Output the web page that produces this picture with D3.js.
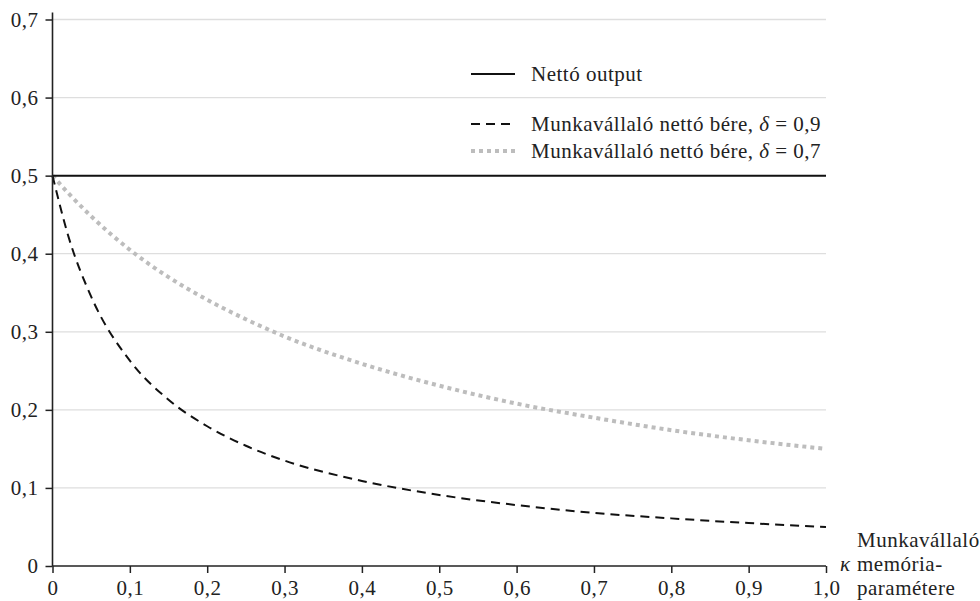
<!DOCTYPE html>
<html>
<head>
<meta charset="utf-8">
<script src="https://cdn.jsdelivr.net/npm/d3@7"></script>
<style>
  body { margin: 0; background: #fff; }
  svg text { font-family: "Liberation Serif", "DejaVu Serif", serif; fill: #222; letter-spacing: 0.5px; }
</style>
</head>
<body>
<div id="chart"></div>
<script>
// Munkavállaló κ memória-paramétere (x) and the values
const kappa = [0, 0.02, 0.05, 0.1, 0.15, 0.2, 0.25, 0.3, 0.4, 0.5, 0.6, 0.7, 0.8, 0.9, 1.0];
const netOutput = [0.5, 0.5, 0.5, 0.5, 0.5, 0.5, 0.5, 0.5, 0.5, 0.5, 0.5, 0.5, 0.5, 0.5, 0.5];
const wageDelta09 = [0.5, 0.424, 0.345, 0.263, 0.213, 0.179, 0.154, 0.135, 0.109, 0.091, 0.078, 0.068, 0.061, 0.055, 0.05];
const wageDelta07 = [0.5, 0.478, 0.448, 0.405, 0.370, 0.341, 0.316, 0.294, 0.259, 0.231, 0.208, 0.190, 0.174, 0.161, 0.15];

const xTicks = [0, 0.1, 0.2, 0.3, 0.4, 0.5, 0.6, 0.7, 0.8, 0.9, 1.0];
const xTickLabels = ['0', '0,1', '0,2', '0,3', '0,4', '0,5', '0,6', '0,7', '0,8', '0,9', '1,0'];
const yTicks = [0, 0.1, 0.2, 0.3, 0.4, 0.5, 0.6, 0.7];
const yTickLabels = ['0', '0,1', '0,2', '0,3', '0,4', '0,5', '0,6', '0,7'];

const legendItems = [
  { label: 'Nettó output', delta: null, series: 'solid' },
  { label: 'Munkavállaló nettó bére, ', delta: '0,9', series: 'dashed' },
  { label: 'Munkavállaló nettó bére, ', delta: '0,7', series: 'dotted' }
];
const xTitle = ['Munkavállaló', 'memória-', 'paramétere'];

const width = 980, height = 601;
const margin = { top: 19.5, right: 154, bottom: 35, left: 52.5 };
const fontSize = 21;

const styles = {
  solid:  { stroke: '#111', width: 2, dash: null },
  dashed: { stroke: '#111', width: 2, dash: '9,6' },
  dotted: { stroke: '#bdbdbd', width: 4, dash: '4,4' }
};

const svg = d3.select('#chart').append('svg')
  .attr('width', width)
  .attr('height', height);

const x = d3.scaleLinear().domain([0, 1]).range([margin.left, width - margin.right]);
const y = d3.scaleLinear().domain([0, 0.7]).range([height - margin.bottom, margin.top]);

// gridlines
svg.append('g')
  .selectAll('line')
  .data(yTicks.filter(d => d > 0))
  .join('line')
  .attr('x1', x(0)).attr('x2', x(1))
  .attr('y1', d => y(d)).attr('y2', d => y(d))
  .attr('stroke', '#dedede')
  .attr('stroke-width', 1.3);

// series
const line = d3.line()
  .x((d, i) => x(kappa[i]))
  .y(d => y(d))
  .curve(d3.curveMonotoneX);

const series = [
  { values: wageDelta07, style: 'dotted' },
  { values: wageDelta09, style: 'dashed' },
  { values: netOutput, style: 'solid' }
];

svg.append('g')
  .selectAll('path')
  .data(series)
  .join('path')
  .attr('d', d => line(d.values))
  .attr('fill', 'none')
  .attr('stroke', d => styles[d.style].stroke)
  .attr('stroke-width', d => styles[d.style].width)
  .attr('stroke-dasharray', d => styles[d.style].dash);

// axes
const xAxis = svg.append('g')
  .attr('transform', `translate(0,${y(0)})`)
  .call(d3.axisBottom(x)
    .tickValues(xTicks)
    .tickSize(7)
    .tickSizeOuter(0)
    .tickPadding(7)
    .tickFormat((d, i) => xTickLabels[i]));

const yAxis = svg.append('g')
  .attr('transform', `translate(${x(0)},0)`)
  .call(d3.axisLeft(y)
    .tickValues(yTicks)
    .tickSize(7)
    .tickSizeOuter(0)
    .tickPadding(7)
    .tickFormat((d, i) => yTickLabels[i]));

[xAxis, yAxis].forEach(ax => {
  ax.select('.domain').remove();
  ax.selectAll('.tick line').attr('stroke', '#222').attr('stroke-width', 1.5);
  ax.selectAll('.tick text')
    .style('font-size', fontSize + 'px')
    .attr('fill', '#222');
});

svg.append('line')
  .attr('x1', x(0)).attr('x2', x(1))
  .attr('y1', y(0)).attr('y2', y(0))
  .attr('stroke', '#222').attr('stroke-width', 1.6);
svg.append('line')
  .attr('x1', x(0)).attr('x2', x(0))
  .attr('y1', y(0)).attr('y2', y(0.7) - 7)
  .attr('stroke', '#222').attr('stroke-width', 1.6);

// x axis title
const title = svg.append('text')
  .style('font-size', fontSize + 'px');
title.append('tspan').attr('x', 857).attr('y', 547).text(xTitle[0]);
const t2 = title.append('tspan').attr('x', 840).attr('y', 571);
t2.append('tspan').style('font-style', 'italic').text('κ');
t2.append('tspan').attr('x', 857).text(xTitle[1]);
title.append('tspan').attr('x', 857).attr('y', 595).text(xTitle[2]);

// legend
const legendRowY = [74, 124, 151];
const legend = svg.append('g');
const rows = legend.selectAll('g')
  .data(legendItems)
  .join('g')
  .attr('transform', (d, i) => `translate(471,${legendRowY[i]})`);

rows.append('line')
  .attr('x1', 0).attr('x2', 44)
  .attr('stroke', d => styles[d.series].stroke)
  .attr('stroke-width', d => styles[d.series].width)
  .attr('stroke-dasharray', d => styles[d.series].dash);

const labels = rows.append('text')
  .attr('x', 60)
  .attr('dy', '0.33em')
  .style('font-size', fontSize + 'px');
labels.append('tspan').text(d => d.label);
labels.filter(d => d.delta)
  .append('tspan').style('font-style', 'italic').text('δ');
labels.filter(d => d.delta)
  .append('tspan').text(d => ' = ' + d.delta);
</script>
</body>
</html>
